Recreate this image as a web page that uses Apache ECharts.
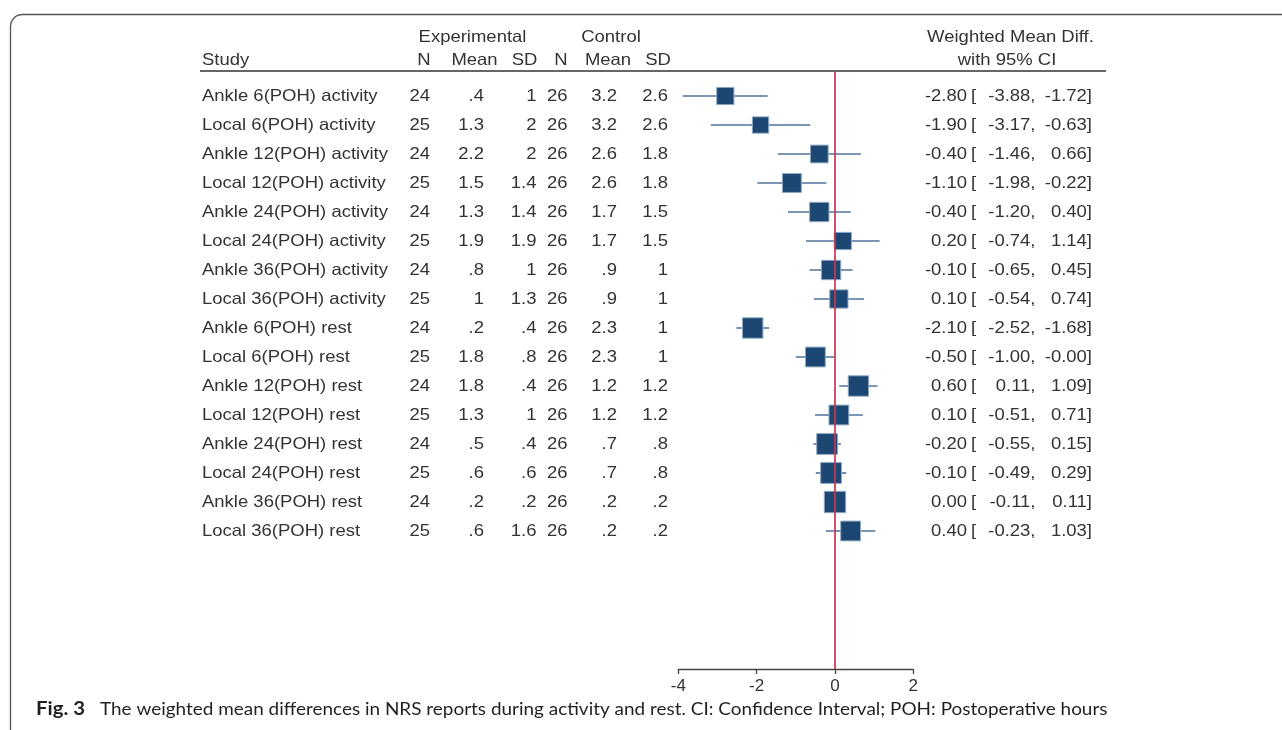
<!DOCTYPE html>
<html>
<head>
<meta charset="utf-8">
<script src="https://cdn.jsdelivr.net/npm/echarts@6/dist/echarts.min.js"></script>
<style>html,body{margin:0;padding:0;background:#fff}#c{width:1282px;height:730px}</style>
</head>
<body>
<div id="c"></div>
<script>
// ---- data ----
const studies = ["Ankle 6(POH) activity","Local 6(POH) activity","Ankle 12(POH) activity","Local 12(POH) activity",
  "Ankle 24(POH) activity","Local 24(POH) activity","Ankle 36(POH) activity","Local 36(POH) activity",
  "Ankle 6(POH) rest","Local 6(POH) rest","Ankle 12(POH) rest","Local 12(POH) rest",
  "Ankle 24(POH) rest","Local 24(POH) rest","Ankle 36(POH) rest","Local 36(POH) rest"];
const expN    = [24,25,24,25,24,25,24,25,24,25,24,25,24,25,24,25];
const expMean = [0.4,1.3,2.2,1.5,1.3,1.9,0.8,1,0.2,1.8,1.8,1.3,0.5,0.6,0.2,0.6];
const expSD   = [1,2,2,1.4,1.4,1.9,1,1.3,0.4,0.8,0.4,1,0.4,0.6,0.2,1.6];
const ctlN    = [26,26,26,26,26,26,26,26,26,26,26,26,26,26,26,26];
const ctlMean = [3.2,3.2,2.6,2.6,1.7,1.7,0.9,0.9,2.3,2.3,1.2,1.2,0.7,0.7,0.2,0.2];
const ctlSD   = [2.6,2.6,1.8,1.8,1.5,1.5,1,1,1,1,1.2,1.2,0.8,0.8,0.2,0.2];
const wmd     = [-2.80,-1.90,-0.40,-1.10,-0.40,0.20,-0.10,0.10,-2.10,-0.50,0.60,0.10,-0.20,-0.10,0.00,0.40];
const ciLow   = [-3.88,-3.17,-1.46,-1.98,-1.20,-0.74,-0.65,-0.54,-2.52,-1.00,0.11,-0.51,-0.55,-0.49,-0.11,-0.23];
const ciHigh  = [-1.72,-0.63,0.66,-0.22,0.40,1.14,0.45,0.74,-1.68,-0.00,1.09,0.71,0.15,0.29,0.11,1.03];
const weights = [5.0,4.5,5.3,6.0,6.3,5.0,6.3,5.6,7.0,6.6,7.0,6.6,7.3,7.3,7.7,6.6]; // % (box area)
const xTicks  = [-4,-2,0,2];

// ---- helpers ----
const FONT = '16.5px "Liberation Sans", Arial, sans-serif';
const SX = 1.12;
const TXT = '#333333';
function fmtS(v){ let s = String(v); return s.replace(/^0\./,'.'); }
function fmt2(v){ return (Object.is(v,-0)?'-':'') + v.toFixed(2); }
function txt(x,y,str,align){
  return {type:'text', x:x, y:y, scaleX:SX, silent:true,
    style:{text:str, fill:TXT, font:FONT, align:align, verticalAlign:'middle'}};
}

const chart = echarts.init(document.getElementById('c'), null, {renderer:'canvas'});

const rowData = studies.map((s,i)=>[wmd[i], i+1, ciLow[i], ciHigh[i], weights[i]]);

// caption fit
const mctx = document.createElement('canvas').getContext('2d');
const capFontB = 'bold 18px Lato, "Open Sans", sans-serif';
const capFont = '18px Lato, "Open Sans", sans-serif';
const capBold = 'Fig. 3';
const capText = 'The weighted mean differences in NRS reports during activity and rest. CI: Confidence Interval; POH: Postoperative hours';
const capLead = 'The weighted mean differences in NRS reports during activity and ';
mctx.font = capFontB; const wB = mctx.measureText(capBold).width;
mctx.font = capFont; const wLead = mctx.measureText(capLead).width;
const capX0 = 36, capTX = 100, restX = 650;
const sB = 49 / wB;
const sT = (restX - capTX) / wLead;
const capY = 709;

const option = {
  animation:false,
  backgroundColor:'#ffffff',
  grid:{left:678.3, right:368.7, top:72, bottom:61, containLabel:false},
  xAxis:{type:'value', min:-4, max:2, interval:2,
    axisLine:{show:true, lineStyle:{color:'#444', width:1.3}},
    axisTick:{show:true, length:5, lineStyle:{color:'#444', width:1.3}},
    axisLabel:{show:true, color:TXT, fontSize:17, fontFamily:'"Liberation Sans", Arial, sans-serif', margin:9,
      formatter:(v)=> xTicks.indexOf(v)>=0 ? String(v) : ''},
    splitLine:{show:false}},
  yAxis:{type:'value', inverse:true, min:0.1724, max:20.759, show:false, splitLine:{show:false}},
  series:[
    { // null line
      type:'line', data:[], silent:true, z:1,
      markLine:{silent:true, symbol:'none', label:{show:false},
        lineStyle:{color:'#c9354f', width:1.7, type:'solid'},
        data:[{xAxis:0}]}
    },
    { // CI + boxes
      type:'custom', z:3, clip:false,
      encode:{x:0, y:1},
      data:rowData,
      renderItem:function(params, api){
        const y = api.value(1);
        const c = api.coord([api.value(0), y]);
        const l = api.coord([api.value(2), y]);
        const h = api.coord([api.value(3), y]);
        const s = 7.7 * Math.sqrt(api.value(4));
        return {type:'group', children:[
          {type:'line', shape:{x1:l[0], y1:l[1], x2:h[0], y2:h[1]}, style:{stroke:'#4f7399', lineWidth:1.6}},
          {type:'rect', shape:{x:c[0]-s/2, y:c[1]-s/2, width:s, height:s}, style:{fill:'#1b4772', stroke:'#8ea7c2', lineWidth:1}}
        ]};
      }
    },
    { // table text
      type:'custom', z:4, clip:false, silent:true,
      encode:{x:0, y:1},
      data:studies.map((s,i)=>[0, i+1]),
      renderItem:function(params, api){
        const i = params.dataIndex;
        const y = api.coord([0, api.value(1)])[1];
        return {type:'group', children:[
          txt(202, y, studies[i], 'left'),
          txt(430, y, fmtS(expN[i]), 'right'),
          txt(484, y, fmtS(expMean[i]), 'right'),
          txt(536.5, y, fmtS(expSD[i]), 'right'),
          txt(567.5, y, fmtS(ctlN[i]), 'right'),
          txt(617, y, fmtS(ctlMean[i]), 'right'),
          txt(668, y, fmtS(ctlSD[i]), 'right'),
          txt(967, y, fmt2(wmd[i]), 'right'),
          txt(971, y, '[', 'left'),
          txt(1035.5, y, fmt2(ciLow[i]) + ',', 'right'),
          txt(1092, y, fmt2(ciHigh[i]) + ']', 'right')
        ]};
      }
    }
  ],
  graphic:[
    {type:'rect', silent:true, shape:{x:10.5, y:14.5, width:1400, height:800, r:12},
      style:{fill:'none', stroke:'#555', lineWidth:1.3}},
    {type:'line', silent:true, shape:{x1:200, y1:71, x2:1106, y2:71}, style:{stroke:'#333', lineWidth:1.5}},
    txt(472.5, 37, 'Experimental', 'center'),
    txt(611, 37, 'Control', 'center'),
    txt(202, 60, 'Study', 'left'),
    txt(424, 60, 'N', 'center'),
    txt(474.5, 60, 'Mean', 'center'),
    txt(524.5, 60, 'SD', 'center'),
    txt(561, 60, 'N', 'center'),
    txt(608, 60, 'Mean', 'center'),
    txt(658, 60, 'SD', 'center'),
    txt(1010.5, 37, 'Weighted Mean Diff.', 'center'),
    txt(1007, 60, 'with 95% CI', 'center'),
    {type:'text', x:capX0, y:capY, scaleX:sB, silent:true,
      style:{text:capBold, font:capFontB, fill:'#231f20', align:'left', verticalAlign:'middle'}},
    {type:'text', x:capTX, y:capY, scaleX:sT, silent:true,
      style:{text:capText, font:capFont, fill:'#231f20', align:'left', verticalAlign:'middle'}}
  ]
};
chart.setOption(option);
</script>
</body>
</html>
